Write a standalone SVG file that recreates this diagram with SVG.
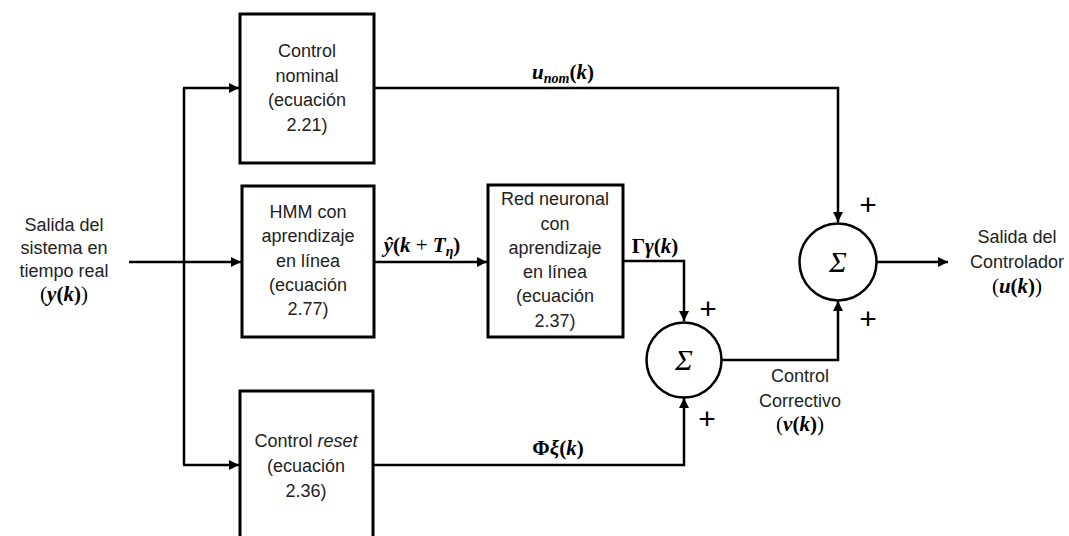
<svg xmlns="http://www.w3.org/2000/svg" width="1069" height="536" viewBox="0 0 1069 536">
<defs>
<marker id="ah" viewBox="0 0 10 10" refX="10" refY="5" markerWidth="4.4" markerHeight="4" markerUnits="strokeWidth" orient="auto">
<path d="M0,0 L10,5 L0,10 z" fill="#000"/>
</marker>
</defs>
<style>
.box{fill:#fff;stroke:#000;stroke-width:3}
.sum{fill:#fff;stroke:#000;stroke-width:2.5}
.ln{fill:none;stroke:#000;stroke-width:2.5}
.t{font-family:"Liberation Sans",Arial,sans-serif;font-size:18px;fill:#222;text-anchor:middle}
.m{font-family:"Liberation Serif","Times New Roman",serif;font-size:21px;font-weight:bold;fill:#000;text-anchor:middle}
.mi{font-style:italic}
.mr{font-weight:normal}
.pl{font-family:"Liberation Sans",Arial,sans-serif;font-size:30px;fill:#000;text-anchor:middle}
.sg{font-family:"Liberation Serif","Times New Roman",serif;font-size:30px;font-style:italic;fill:#000;text-anchor:middle}
</style>
<g id="connectors">
<line class="ln" x1="129" y1="262" x2="241" y2="262" marker-end="url(#ah)"/>
<line class="ln" x1="184" y1="88" x2="184" y2="465"/>
<line class="ln" x1="183" y1="88" x2="239" y2="88" marker-end="url(#ah)"/>
<line class="ln" x1="183" y1="465" x2="239" y2="465" marker-end="url(#ah)"/>
<polyline class="ln" points="374,88 838,88 838,222" marker-end="url(#ah)"/>
<line class="ln" x1="374" y1="262" x2="487" y2="262" marker-end="url(#ah)"/>
<polyline class="ln" points="623,261 684,261 684,321" marker-end="url(#ah)"/>
<polyline class="ln" points="373,465 684,465 684,398" marker-end="url(#ah)"/>
<polyline class="ln" points="722,360 838,360 838,301" marker-end="url(#ah)"/>
<line class="ln" x1="877" y1="262" x2="948" y2="262" marker-end="url(#ah)"/>
<text class="m" x="563" y="79"><tspan class="mi">u</tspan><tspan class="mi" font-size="14" dy="4">nom</tspan><tspan dy="-4">(</tspan><tspan class="mi">k</tspan>)</text>
<text class="m" x="422" y="252"><tspan class="mi">ŷ</tspan>(<tspan class="mi">k</tspan> <tspan class="mr">+</tspan> <tspan class="mi">T</tspan><tspan class="mi" font-size="14" dy="4">η</tspan><tspan dy="-4">)</tspan></text>
<text class="m" x="655" y="253">Γ<tspan class="mi">γ</tspan>(<tspan class="mi">k</tspan>)</text>
<text class="m" x="558" y="455">Φ<tspan class="mi">ξ</tspan>(<tspan class="mi">k</tspan>)</text>
<text class="pl" x="868" y="215">+</text>
<text class="pl" x="708" y="319">+</text>
<text class="pl" x="868" y="329">+</text>
<text class="pl" x="707" y="429">+</text>
</g>
<g id="input">
<text class="t" x="64" y="231">Salida del</text>
<text class="t" x="64" y="254">sistema en</text>
<text class="t" x="64" y="277">tiempo real</text>
<text class="m" x="64" y="301"><tspan class="mr">(</tspan><tspan class="mi">y</tspan>(<tspan class="mi">k</tspan>)<tspan class="mr">)</tspan></text>
</g>
<g id="nominal">
<rect class="box" x="240" y="14" width="134" height="149"/>
<text class="t" x="307" y="57">Control</text>
<text class="t" x="307" y="82">nominal</text>
<text class="t" x="307" y="106">(ecuación</text>
<text class="t" x="307" y="131">2.21)</text>
</g>
<g id="hmm">
<rect class="box" x="242" y="186" width="132" height="151"/>
<text class="t" x="308" y="218">HMM con</text>
<text class="t" x="308" y="242">aprendizaje</text>
<text class="t" x="308" y="267">en línea</text>
<text class="t" x="308" y="291">(ecuación</text>
<text class="t" x="308" y="315">2.77)</text>
</g>
<g id="red">
<rect class="box" x="488" y="185" width="135" height="152"/>
<text class="t" x="555" y="205">Red neuronal</text>
<text class="t" x="555" y="230">con</text>
<text class="t" x="555" y="254">aprendizaje</text>
<text class="t" x="555" y="278">en línea</text>
<text class="t" x="555" y="302">(ecuación</text>
<text class="t" x="555" y="327">2.37)</text>
</g>
<g id="reset">
<rect class="box" x="240" y="391" width="133" height="160"/>
<text class="t" x="306" y="447">Control <tspan font-style="italic">reset</tspan></text>
<text class="t" x="306" y="472">(ecuación</text>
<text class="t" x="306" y="497">2.36)</text>
</g>
<g id="sum1">
<circle class="sum" cx="684" cy="360" r="37.5"/>
<text class="sg" x="684" y="370">Σ</text>
</g>
<g id="sum2">
<circle class="sum" cx="838" cy="262" r="38.5"/>
<text class="sg" x="838" y="272">Σ</text>
</g>
<g id="corrective">
<text class="t" x="800" y="382">Control</text>
<text class="t" x="800" y="407">Correctivo</text>
<text class="m" x="800" y="431"><tspan class="mr">(</tspan><tspan class="mi">v</tspan>(<tspan class="mi">k</tspan>)<tspan class="mr">)</tspan></text>
</g>
<g id="output">
<text class="t" x="1017" y="243">Salida del</text>
<text class="t" x="1017" y="268">Controlador</text>
<text class="m" x="1017" y="293"><tspan class="mr">(</tspan><tspan class="mi">u</tspan>(<tspan class="mi">k</tspan>)<tspan class="mr">)</tspan></text>
</g>
</svg>
